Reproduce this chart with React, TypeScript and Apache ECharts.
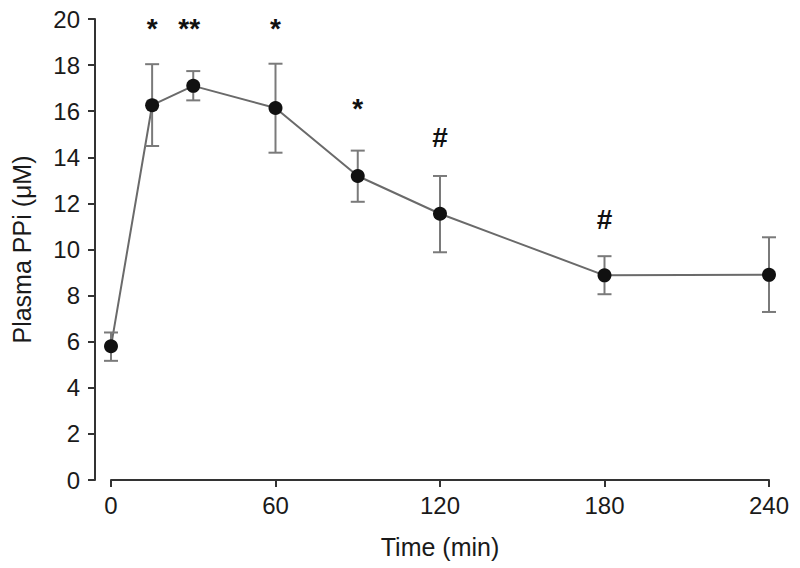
import React, { useEffect, useRef } from "react";
import * as echarts from "echarts";

const times = [0, 15, 30, 60, 90, 120, 180, 240];
const means = [5.8, 16.26, 17.1, 16.14, 13.19, 11.55, 8.88, 8.9];
const lowers = [5.17, 14.49, 16.47, 14.2, 12.07, 9.88, 8.06, 7.29];
const uppers = [6.4, 18.04, 17.74, 18.06, 14.29, 13.19, 9.71, 10.53];

const annoTimes = [15, 28.5, 60, 90, 120, 180];
const annoTexts = ["*", "**", "*", "*", "#", "#"];
const annoValues = [19.6, 19.6, 19.6, 16.1, 14.85, 11.3];

const xTicks = [0, 60, 120, 180, 240];
const yTicks = [0, 2, 4, 6, 8, 10, 12, 14, 16, 18, 20];

const FONT = "'Liberation Sans', Arial, Helvetica, sans-serif";

export default function App() {
  const ref = useRef<HTMLDivElement>(null);
  useEffect(() => {
    if (!ref.current) return;
    const chart = echarts.init(ref.current, null, { renderer: "svg" });
    const lineData = times.map((t, i) => [t, means[i]]);
    const errData = times.map((t, i) => [t, lowers[i], uppers[i]]);
    const annoData = annoTimes.map((t, i) => [t, annoValues[i]]);
    chart.setOption({
      animation: false,
      backgroundColor: "#ffffff",
      textStyle: { fontFamily: FONT },
      grid: { left: 111, right: 31, top: 19, bottom: 88, containLabel: false },
      xAxis: {
        type: "value",
        min: xTicks[0],
        max: xTicks[xTicks.length - 1],
        interval: 60,
        name: "Time (min)",
        nameLocation: "middle",
        nameGap: 54,
        nameTextStyle: { fontSize: 25, color: "#1a1a1a", fontFamily: FONT },
        axisLine: { show: true, onZero: false, lineStyle: { color: "#333", width: 2 } },
        axisTick: { show: true, length: 7, lineStyle: { color: "#333", width: 2 } },
        axisLabel: { fontSize: 24, color: "#1a1a1a", margin: 13, fontFamily: FONT },
        splitLine: { show: false },
      },
      yAxis: {
        type: "value",
        min: yTicks[0],
        max: yTicks[yTicks.length - 1],
        interval: 2,
        offset: 16,
        name: "Plasma PPi (μM)",
        nameLocation: "middle",
        nameGap: 61,
        nameRotate: 90,
        nameTextStyle: { fontSize: 25, color: "#1a1a1a", fontFamily: FONT },
        axisLine: { show: true, onZero: false, lineStyle: { color: "#333", width: 2 } },
        axisTick: { show: true, length: 7, lineStyle: { color: "#333", width: 2 } },
        axisLabel: { fontSize: 24, color: "#1a1a1a", margin: 15, fontFamily: FONT },
        splitLine: { show: false },
      },
      series: [
        {
          type: "line",
          data: lineData,
          symbol: "none",
          lineStyle: { color: "#6a6a6a", width: 2 },
          z: 2,
        },
        {
          type: "custom",
          data: errData,
          z: 3,
          renderItem: (params: any, api: any) => {
            const x = api.value(0);
            const lo = api.coord([x, api.value(1)]);
            const hi = api.coord([x, api.value(2)]);
            const hw = 7;
            const st = { stroke: "#7a7a7a", lineWidth: 2 };
            return {
              type: "group",
              children: [
                { type: "line", shape: { x1: lo[0], y1: lo[1], x2: hi[0], y2: hi[1] }, style: st },
                { type: "line", shape: { x1: lo[0] - hw, y1: lo[1], x2: lo[0] + hw, y2: lo[1] }, style: st },
                { type: "line", shape: { x1: hi[0] - hw, y1: hi[1], x2: hi[0] + hw, y2: hi[1] }, style: st },
              ],
            };
          },
        },
        {
          type: "scatter",
          data: lineData,
          symbol: "circle",
          symbolSize: 14,
          itemStyle: { color: "#111", opacity: 1 },
          z: 4,
        },
        {
          type: "custom",
          data: annoData,
          z: 5,
          renderItem: (params: any, api: any) => {
            const p = api.coord([api.value(0), api.value(1)]);
            const txt = annoTexts[params.dataIndex];
            return {
              type: "text",
              x: p[0],
              y: p[1],
              style: {
                text: txt,
                fontSize: 28,
                fontWeight: "bold",
                fontFamily: FONT,
                fill: "#111",
                align: "center",
                verticalAlign: "middle",
              },
            };
          },
        },
      ],
    });
    return () => chart.dispose();
  }, []);
  return (
    <div
      ref={ref}
      style={{ position: "fixed", left: 0, top: 0, width: 800, height: 568, background: "#fff" }}
    />
  );
}
